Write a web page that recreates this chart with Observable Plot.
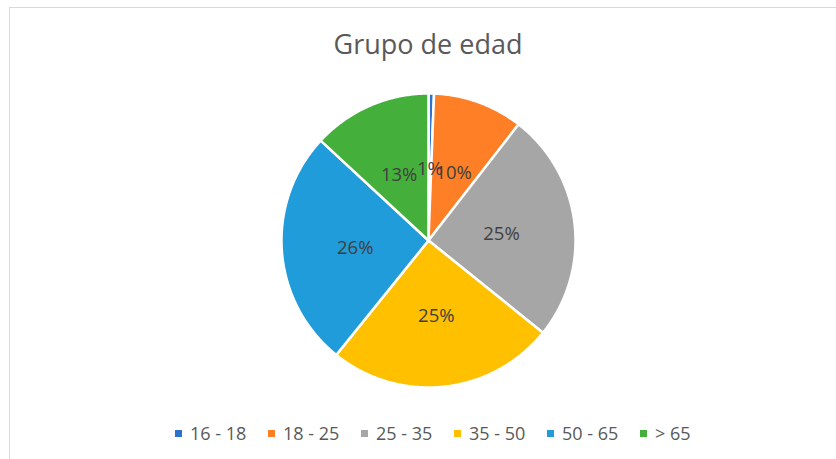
<!DOCTYPE html>
<html>
<head>
<meta charset="utf-8">
<script src="https://cdn.jsdelivr.net/npm/d3@7"></script>
<script src="https://cdn.jsdelivr.net/npm/@observablehq/plot@0.6"></script>
<style>
  html, body { margin: 0; padding: 0; background: #fff; }
  #wrap { position: relative; width: 836px; height: 459px; overflow: hidden; font-family: "Open Sans", sans-serif; }
  #frame { position: absolute; left: 9px; top: 7px; width: 900px; height: 500px; border: 1.5px solid #d9d9d9; box-sizing: border-box; }
  #title { position: absolute; left: 0; width: 856px; top: 25px; text-align: center; font-size: 27px; color: #595959; }
  #chart { position: absolute; left: 0; top: 0; }
  #legend { position: absolute; left: 175px; top: 421px; display: flex; color: #595959; font-size: 18px; line-height: 24px; }
  .item { display: flex; align-items: center; width: 93px; white-space: nowrap; }
  .sw { width: 7px; height: 7px; margin-right: 8px; }
</style>
</head>
<body>
<div id="wrap">
  <div id="frame"></div>
  <div id="title">Grupo de edad</div>
  <div id="chart"></div>
  <div id="legend"></div>
</div>
<script>
const categories = ["16 - 18", "18 - 25", "25 - 35", "35 - 50", "50 - 65", "> 65"];
const values = [0.6, 9.9, 25.3, 25.0, 26.1, 13.1];
const colors = ["#2f72cc", "#ff7f27", "#a6a6a6", "#ffc000", "#1f9cd9", "#45af3c"];

const total = d3.sum(values);
const fmt = d3.format(".0%");

// build slices from data
let acc = 0;
const slices = categories.map((c, i) => {
  const a0 = acc / total * 2 * Math.PI;
  acc += values[i];
  const a1 = acc / total * 2 * Math.PI;
  return {cat: c, value: values[i], a0, a1, mid: (a0 + a1) / 2};
});

const outline = [];
for (const s of slices) {
  outline.push({cat: s.cat, x: 0, y: 0});
  const n = Math.max(2, Math.ceil((s.a1 - s.a0) / 0.01));
  for (let k = 0; k <= n; k++) {
    const a = s.a0 + (s.a1 - s.a0) * k / n;
    outline.push({cat: s.cat, x: Math.sin(a), y: Math.cos(a)});
  }
  outline.push({cat: s.cat, x: 0, y: 0});
}

const labels = slices.map(s => ({
  cat: s.cat,
  x: 0.5 * Math.sin(s.mid),
  y: 0.5 * Math.cos(s.mid),
  text: fmt(s.value / total)
}));

const cx = 428, cy = 240, r = 147;

const plot = Plot.plot({
  width: 836,
  height: 459,
  margin: 0,
  x: {domain: [-1, 1], range: [cx - r, cx + r], axis: null},
  y: {domain: [-1, 1], range: [cy + r, cy - r], axis: null},
  color: {domain: categories, range: colors},
  style: {background: "transparent", fontFamily: "Open Sans, sans-serif"},
  marks: [
    Plot.line(outline, {x: "x", y: "y", z: "cat", fill: "cat", stroke: "#ffffff", strokeWidth: 2.5, strokeLinejoin: "round"}),
    Plot.text(labels, {x: "x", y: "y", dy: 2, text: "text", fill: "#404040", fontSize: 18.5})
  ]
});
document.getElementById("chart").appendChild(plot);

const legend = d3.select("#legend");
categories.forEach((c, i) => {
  const it = legend.append("div").attr("class", "item");
  it.append("div").attr("class", "sw").style("background", colors[i]);
  it.append("span").text(c);
});
</script>
</body>
</html>
